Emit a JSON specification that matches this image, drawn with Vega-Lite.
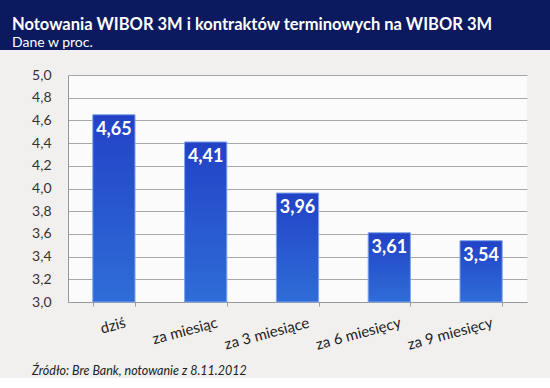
{
  "$schema": "https://vega.github.io/schema/vega-lite/v6.json",
  "background": "#f1f0ee",
  "padding": 0,
  "spacing": 18,
  "config": {
    "font": "Lato",
    "locale": {"number": {"decimal": ",", "thousands": " ", "grouping": [3], "currency": ["", " zł"]}},
    "view": {"stroke": null}
  },
  "title": {
    "text": "Źródło: Bre Bank, notowanie z 8.11.2012",
    "orient": "bottom",
    "anchor": "start",
    "frame": "bounds",
    "dx": 32,
    "offset": 13,
    "font": "Lato",
    "fontStyle": "italic",
    "fontWeight": "normal",
    "fontSize": 12.5,
    "color": "#222222"
  },
  "vconcat": [
    {
      "width": 550,
      "height": 50,
      "view": {"fill": "#0b1a5e", "stroke": null},
      "title": {
        "text": "Notowania WIBOR 3M i kontraktów terminowych na WIBOR 3M",
        "subtitle": "Dane w proc.",
        "orient": "top",
        "anchor": "start",
        "frame": "group",
        "offset": -50,
        "dx": 12,
        "font": "Lato",
        "fontSize": 16.5,
        "fontWeight": "bold",
        "color": "#ffffff",
        "subtitleFont": "Lato",
        "subtitleFontSize": 14,
        "subtitleColor": "#ffffff",
        "subtitlePadding": 3
      },
      "data": {"values": []},
      "mark": "text",
      "encoding": {}
    },
    {
      "spacing": 0,
      "hconcat": [
        {
          "width": 31,
          "height": 227,
          "data": {"values": []},
          "mark": "text",
          "encoding": {}
        },
        {
          "width": 459,
          "height": 227,
          "view": {"fill": "#fbfbfb", "stroke": null},
          "data": {
            "values": [
              {"okres": "dziś", "wartosc": 4.65},
              {"okres": "za miesiąc", "wartosc": 4.41},
              {"okres": "za 3 miesiące", "wartosc": 3.96},
              {"okres": "za 6 miesięcy", "wartosc": 3.61},
              {"okres": "za 9 miesięcy", "wartosc": 3.54}
            ]
          },
          "encoding": {
            "x": {
              "field": "okres",
              "type": "nominal",
              "sort": null,
              "scale": {"paddingInner": 0.54, "paddingOuter": 0.27},
              "axis": {
                "title": null,
                "labelAngle": -15,
                "labelFontSize": 15,
                "labelColor": "#222222",
                "labelPadding": 9,
                "labelOffset": 9,
                "tickBand": "extent",
                "tickColor": "#999999",
                "tickSize": 4,
                "domainColor": "#999999"
              }
            },
            "y": {
              "field": "wartosc",
              "type": "quantitative",
              "scale": {"domain": [3, 5], "zero": false},
              "axis": {
                "title": null,
                "values": [3, 3.2, 3.4, 3.6, 3.8, 4, 4.2, 4.4, 4.6, 4.8, 5],
                "format": ".1f",
                "labelFontSize": 14,
                "labelColor": "#333333",
                "labelPadding": 17,
                "ticks": false,
                "gridColor": "#a8a8a8",
                "domainColor": "#999999"
              }
            }
          },
          "layer": [
            {
              "mark": {
                "type": "bar",
                "color": {
                  "gradient": "linear",
                  "x1": 0, "y1": 0, "x2": 0, "y2": 1,
                  "stops": [
                    {"offset": 0, "color": "#2242c6"},
                    {"offset": 1, "color": "#2f6dd8"}
                  ]
                },
                "stroke": "#7ea5ea",
                "strokeWidth": 1
              },
              "encoding": {"y2": {"datum": 3}}
            },
            {
              "mark": {
                "type": "text",
                "color": "#ffffff",
                "fontWeight": "bold",
                "fontSize": 18,
                "baseline": "top",
                "dy": 6
              },
              "encoding": {"text": {"field": "wartosc", "type": "quantitative", "format": ".2f"}}
            }
          ]
        }
      ]
    }
  ]
}
